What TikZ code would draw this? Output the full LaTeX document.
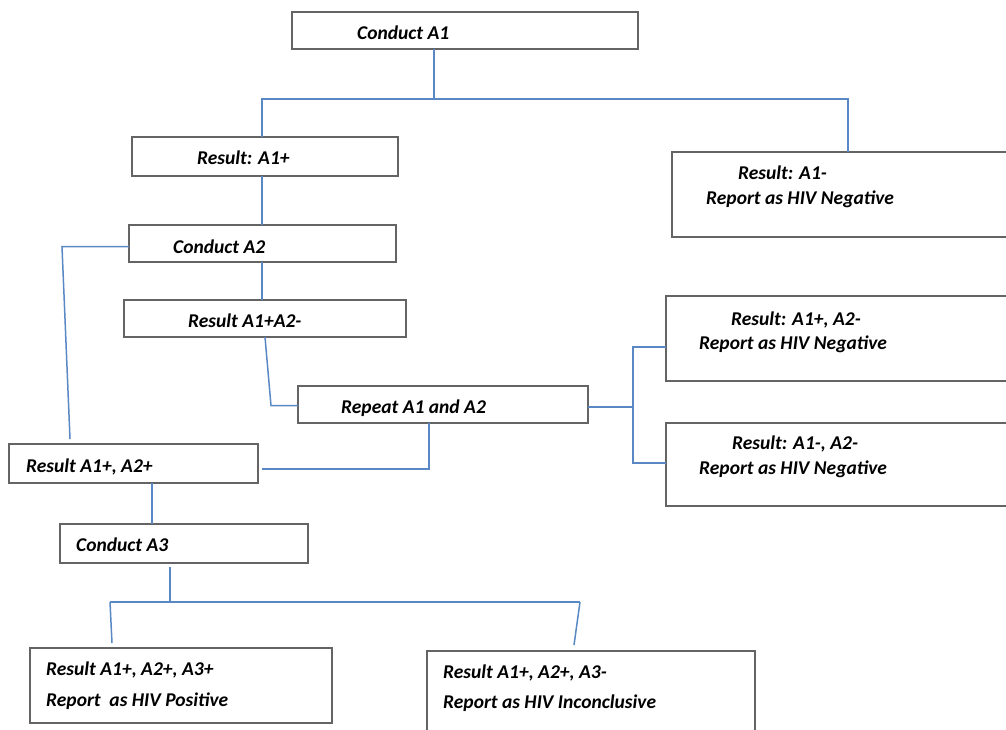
\documentclass[tikz,border=0pt]{standalone}
\usepackage{fontspec}
\setmainfont{Carlito}
\usetikzlibrary{shadows}
\definecolor{conncol}{RGB}{90,136,196}
\definecolor{boxcol}{RGB}{100,100,100}
\begin{document}
\begin{tikzpicture}[x=1pt,y=-1pt,
  box/.style={draw=boxcol, line width=1.5pt, fill=white, rectangle, inner sep=0pt, outer sep=0pt, anchor=north west,
    drop shadow={shadow xshift=1pt, shadow yshift=-1pt, opacity=0.25}},
  txt/.style={anchor=base west, inner sep=0pt, font=\fontsize{19.5}{23}\selectfont\bfseries\itshape, text=black},
  conn/.style={draw=conncol, line width=1.5pt}]
\useasboundingbox (0,0) rectangle (1006,729);
\clip (0,0) rectangle (1006,729);

% boxes
\node[box, minimum width=346pt, minimum height=37pt] (a1) at (292,12) {};
\node[box, minimum width=266pt, minimum height=39pt] (r1p) at (132,137) {};
\node[box, minimum width=400pt, minimum height=85pt] (r1n) at (672,152) {};
\node[box, minimum width=267pt, minimum height=37pt] (a2) at (129,225) {};
\node[box, minimum width=282pt, minimum height=37pt] (r12) at (124,300) {};
\node[box, minimum width=290pt, minimum height=37pt] (rep) at (298,386) {};
\node[box, minimum width=400pt, minimum height=85pt] (r7) at (666,296) {};
\node[box, minimum width=400pt, minimum height=83pt] (r8) at (666,423) {};
\node[box, minimum width=249pt, minimum height=39pt] (r12p) at (9,444) {};
\node[box, minimum width=248pt, minimum height=39pt] (a3) at (60,524) {};
\node[box, minimum width=302pt, minimum height=75pt] (r11) at (30,648) {};
\node[box, minimum width=328pt, minimum height=110pt] (r12b) at (427,651) {};

% texts
\node[txt] (ta1) at (357,39) {Conduct A1};
\node[txt] (tr1p) at (197,164) {Result: A1+};
\node[txt] (tr1na) at (738,179) {Result: A1-};
\node[txt] (tr1nb) at (706,204) {Report as HIV Negative};
\node[txt] (ta2) at (173,253) {Conduct A2};
\node[txt] (tr12) at (188,327) {Result A1+A2-};
\node[txt] (trep) at (341,413) {Repeat A1 and A2};
\node[txt] (tr7a) at (731,325) {Result: A1+, A2-};
\node[txt] (tr7b) at (699,349) {Report as HIV Negative};
\node[txt] (tr8a) at (732,449) {Result: A1-, A2-};
\node[txt] (tr8b) at (699,474) {Report as HIV Negative};
\node[txt] (tr12p) at (26,472) {Result A1+, A2+};
\node[txt] (ta3) at (76,551) {Conduct A3};
\node[txt] (tr11a) at (46,675) {Result A1+, A2+, A3+};
\node[txt] (tr11b) at (46,706) {Report\ \ as HIV Positive};
\node[txt] (tr12ba) at (443,678) {Result A1+, A2+, A3-};
\node[txt] (tr12bb) at (443,708) {Report as HIV Inconclusive};

% junctions
\coordinate (j1) at (434,99);
\coordinate (jL) at (262,99);
\coordinate (jR) at (848,99);
\coordinate (s0) at (633,407);
\coordinate (s1) at (633,347);
\coordinate (s2) at (633,463);
\coordinate (t1) at (429,469);
\coordinate (v0) at (170,602);
\coordinate (vL) at (110,602);
\coordinate (vR) at (580,602);

% connectors
\draw[conn] (a1.south -| j1) -- (j1);
\draw[conn] (r1p.north -| jL) -- (jL) -- (jR) -- (r1n.north -| jR);
\draw[conn] (r1p.south -| jL) -- (a2.north -| jL);
\draw[conn] (a2.south -| jL) -- (r12.north -| jL);
\draw[conn] ([yshift=-3pt]a2.west) -- ++(-67,0) -- ([xshift=61pt,yshift=5pt]r12p.north west);
\draw[conn] ([xshift=141pt]r12.south west) -- ([xshift=-27pt,yshift=-1pt]rep.west) -- ([yshift=-1pt]rep.west);
\draw[conn] ([yshift=-2.5pt]rep.east) -- (s0);
\draw[conn] (r7.west |- s1) -- (s1) -- (s2) -- (r8.west |- s2);
\draw[conn] (rep.south -| t1) -- (t1) -- ([xshift=4pt]r12p.east |- t1);
\draw[conn] ([xshift=143pt]r12p.south west) -- ([xshift=92pt]a3.north west);
\draw[conn] ([yshift=-4pt]a3.south -| v0) -- (v0);
\draw[conn] (vL) -- (vR);
\draw[conn] (vL) -- ([xshift=82pt,yshift=5pt]r11.north west);
\draw[conn] (vR) -- ([xshift=147pt,yshift=6pt]r12b.north west);
\end{tikzpicture}
\end{document}
